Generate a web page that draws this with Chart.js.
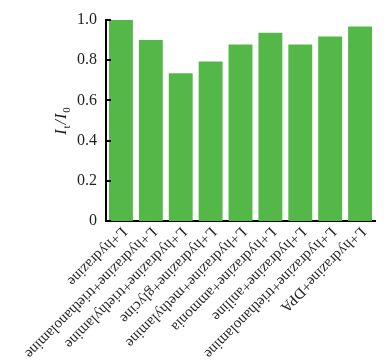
<!DOCTYPE html>
<html>
<head>
<meta charset="utf-8">
<script src="https://cdn.jsdelivr.net/npm/chart.js@4.4.1/dist/chart.umd.min.js"></script>
<style>
  html, body { margin: 0; padding: 0; background: #ffffff; }
  #wrap { width: 390px; height: 362px; position: relative; }
</style>
</head>
<body>
<div id="wrap"><canvas id="chart"></canvas></div>
<script>
// Datos del gráfico
const categorias = [
    "L+hydrazine",
    "L+hydrazine+triethanolamine",
    "L+hydrazine+triethylamine",
    "L+hydrazine+glycine",
    "L+hydrazine+methylamine",
    "L+hydrazine+ammonia",
    "L+hydrazine+aniline",
    "L+hydrazine+triethanolamine",
    "L+hydrazine+DPA"
];
const valores = [1.0, 0.90, 0.735, 0.793, 0.878, 0.937, 0.878, 0.918, 0.968];
const ticksY = [0, 0.2, 0.4, 0.6, 0.8, 1.0];

const colorBarra = '#54b849';
const colorTexto = '#231f20';
const fuenteSerif = '"Liberation Serif", "Times New Roman", serif';

// Etiquetas del eje x giradas 135° y marcas de graduación hacia adentro
const pluginEjes = {
    id: 'pluginEjes',
    afterDraw(chart) {
        const ctx = chart.ctx;
        const x = chart.scales.x;
        const y = chart.scales.y;

        ctx.save();
        ctx.strokeStyle = '#000000';
        ctx.lineWidth = 2;
        ticksY.forEach(v => {
            const py = Math.round(y.getPixelForValue(v));
            ctx.beginPath();
            ctx.moveTo(x.left, py);
            ctx.lineTo(x.left + 5, py);
            ctx.stroke();
        });
        ctx.restore();

        ctx.save();
        ctx.fillStyle = colorTexto;
        ctx.font = '15px ' + fuenteSerif;
        ctx.textAlign = 'left';
        ctx.textBaseline = 'middle';
        categorias.forEach((txt, i) => {
            const px = x.getPixelForValue(i);
            ctx.save();
            ctx.translate(px + 3, x.top + 8);
            ctx.rotate(135 * Math.PI / 180);
            ctx.fillText(txt, 0, 0);
            ctx.restore();
        });
        ctx.restore();

        // Título del eje y: I_t / I_0
        ctx.save();
        ctx.fillStyle = colorTexto;
        ctx.translate(61, (y.top + y.bottom) / 2);
        ctx.rotate(-Math.PI / 2);
        ctx.textBaseline = 'alphabetic';
        const partes = [
            { t: 'I', f: 'italic 16px ' + fuenteSerif, dy: 0 },
            { t: 't', f: '11px ' + fuenteSerif, dy: 4 },
            { t: '/', f: 'italic 16px ' + fuenteSerif, dy: 0 },
            { t: 'I', f: 'italic 16px ' + fuenteSerif, dy: 0 },
            { t: '0', f: '11px ' + fuenteSerif, dy: 4 }
        ];
        let ancho = 0;
        partes.forEach(p => { ctx.font = p.f; p.w = ctx.measureText(p.t).width + 1; ancho += p.w; });
        let cx = -ancho / 2;
        partes.forEach(p => {
            ctx.font = p.f;
            ctx.fillText(p.t, cx, 5 + p.dy);
            cx += p.w;
        });
        ctx.restore();
    }
};

const ctx = document.getElementById('chart').getContext('2d');
new Chart(ctx, {
    type: 'bar',
    data: {
        labels: categorias,
        datasets: [{
            data: valores,
            backgroundColor: colorBarra,
            borderWidth: 0,
            categoryPercentage: 1.0,
            barPercentage: 0.8
        }]
    },
    options: {
        responsive: true,
        maintainAspectRatio: false,
        animation: false,
        layout: { padding: { top: 20, right: 15, left: 0, bottom: 0 } },
        plugins: { legend: { display: false }, tooltip: { enabled: false } },
        scales: {
            x: {
                grid: { display: false },
                border: { display: true, color: '#000000', width: 2 },
                ticks: { display: false },
                afterFit(s) { s.height = 141; }
            },
            y: {
                min: 0,
                max: 1,
                afterBuildTicks(s) { s.ticks = ticksY.map(v => ({ value: v })); },
                grid: { display: false },
                border: { display: true, color: '#000000', width: 2 },
                ticks: {
                    color: colorTexto,
                    font: { family: fuenteSerif, size: 16 },
                    padding: 1,
                    callback: v => v === 0 ? '0' : v.toFixed(1)
                },
                afterFit(s) { s.width = 106; }
            }
        }
    },
    plugins: [pluginEjes]
});
</script>
</body>
</html>
